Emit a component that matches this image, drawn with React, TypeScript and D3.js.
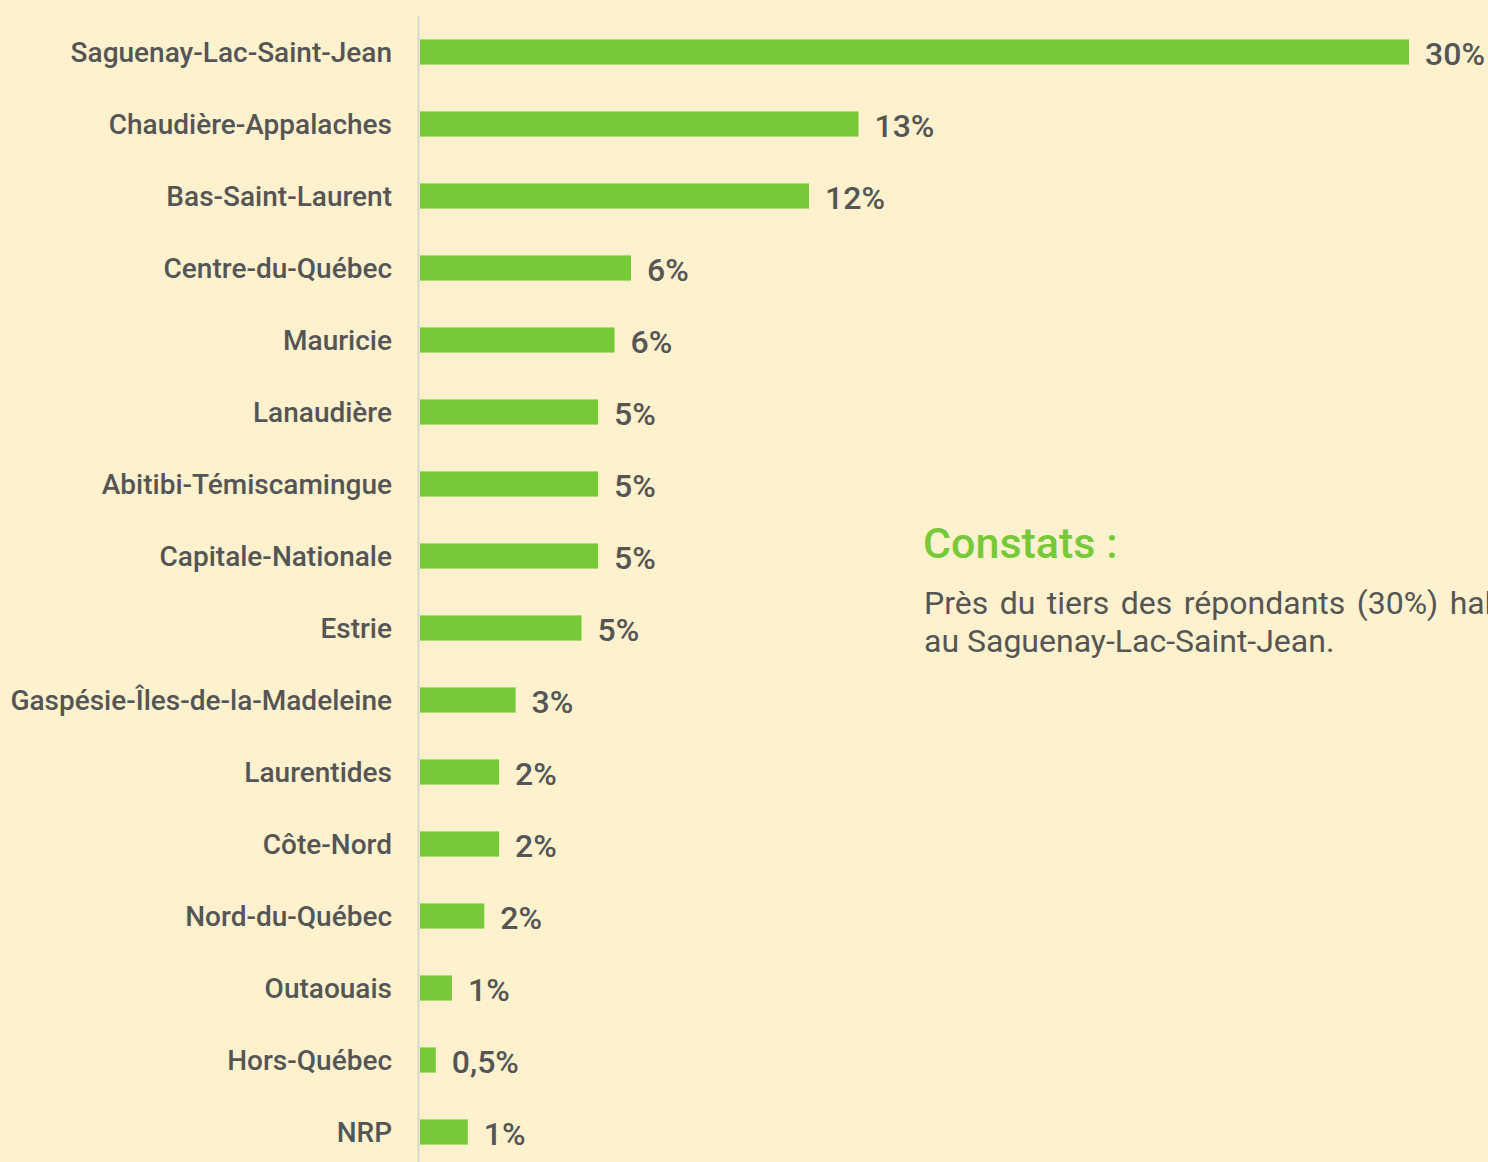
import React from "react";
import * as d3 from "d3";

const categories = [
  "Saguenay-Lac-Saint-Jean",
  "Chaudière-Appalaches",
  "Bas-Saint-Laurent",
  "Centre-du-Québec",
  "Mauricie",
  "Lanaudière",
  "Abitibi-Témiscamingue",
  "Capitale-Nationale",
  "Estrie",
  "Gaspésie-Îles-de-la-Madeleine",
  "Laurentides",
  "Côte-Nord",
  "Nord-du-Québec",
  "Outaouais",
  "Hors-Québec",
  "NRP",
];
const values = [30, 13.3, 11.8, 6.4, 5.9, 5.4, 5.4, 5.4, 4.9, 2.9, 2.4, 2.4, 1.95, 0.97, 0.48, 1.45];
const valueLabels = ["30%", "13%", "12%", "6%", "6%", "5%", "5%", "5%", "5%", "3%", "2%", "2%", "2%", "1%", "0,5%", "1%"];
const noteTitle = "Constats :";
const noteLines = ["Près du tiers des répondants (30%) habitent", "au Saguenay-Lac-Saint-Jean."];

const W = 1488;
const H = 1162;
const BG = "#FEF1CD";
const GREEN = "#77C93A";
const TEXT = "#555555";
const FONT = "Roboto, 'Noto Sans', sans-serif";

export default function App() {
  const x = d3.scaleLinear().domain([0, 30]).range([420, 1409]);
  const y = d3
    .scaleBand<string>()
    .domain(categories)
    .range([16, 1168])
    .paddingInner(0.65)
    .paddingOuter(0.325);
  const bw = y.bandwidth();

  return (
    <div style={{ position: "absolute", left: 0, top: 0, width: W, height: H, overflow: "hidden" }}>
      <svg width={W} height={H} style={{ display: "block", fontFamily: FONT }}>
        <rect x={0} y={0} width={W} height={H} fill={BG} />
        {categories.map((c, i) => {
          const yc = (y(c) as number) + bw / 2;
          return (
            <g key={c}>
              <rect x={x(0)} y={y(c)} width={x(values[i]) - x(0)} height={bw} fill={GREEN} />
              <text
                x={392}
                y={yc}
                textAnchor="end"
                dominantBaseline="central"
                fontSize={28}
                fontWeight={500}
                fill={TEXT}
              >
                {c}
              </text>
              <text
                x={x(values[i]) + 16}
                y={yc + 2}
                dominantBaseline="central"
                fontSize={32}
                fontWeight={500}
                fill={TEXT}
              >
                {valueLabels[i]}
              </text>
            </g>
          );
        })}
        <line x1={418.5} x2={418.5} y1={16} y2={H} stroke="#D8D6D0" strokeWidth={2} />
        <text x={923} y={558} fontSize={43} fontWeight={500} fill={GREEN}>
          {noteTitle}
        </text>
        <text x={924} y={614} fontSize={32} fill={TEXT} wordSpacing={3.5}>
          {noteLines[0]}
        </text>
        <text x={924} y={652} fontSize={32} fill={TEXT}>
          {noteLines[1]}
        </text>
      </svg>
    </div>
  );
}
